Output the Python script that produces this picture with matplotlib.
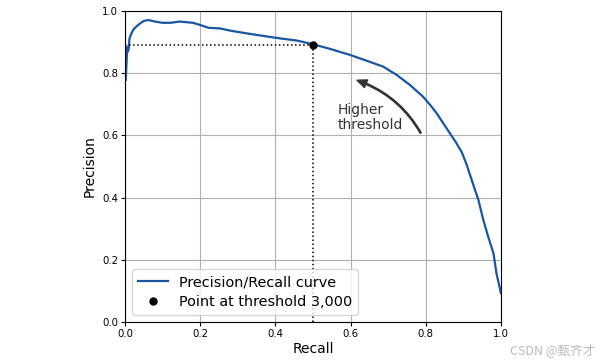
import matplotlib
matplotlib.use("Agg")
import matplotlib.pyplot as plt
import matplotlib.patches as patches

recalls = [1.000, 0.997, 0.988, 0.980, 0.966, 0.953, 0.940, 0.922, 0.909, 0.896,
           0.880, 0.864, 0.846, 0.829, 0.811, 0.793, 0.758, 0.723, 0.687, 0.643,
           0.598, 0.554, 0.540, 0.500, 0.457, 0.412, 0.367, 0.324, 0.279, 0.253,
           0.222, 0.200, 0.181, 0.146, 0.120, 0.100, 0.080, 0.062, 0.050, 0.040,
           0.030, 0.022, 0.016, 0.012, 0.010, 0.008, 0.006, 0.004, 0.002]
precisions = [0.092, 0.108, 0.156, 0.221, 0.274, 0.328, 0.392, 0.457, 0.505, 0.545,
              0.578, 0.607, 0.640, 0.671, 0.699, 0.724, 0.762, 0.794, 0.821, 0.840,
              0.859, 0.875, 0.880, 0.893, 0.905, 0.912, 0.920, 0.928, 0.937, 0.944,
              0.946, 0.955, 0.962, 0.966, 0.962, 0.962, 0.966, 0.971, 0.968, 0.960,
              0.950, 0.940, 0.925, 0.912, 0.880, 0.870, 0.885, 0.830, 0.778]

point_recall = 0.4997
point_precision = 0.8917

fig = plt.figure(figsize=(5.98, 3.61), dpi=100)
ax = fig.add_axes([125/598, 1 - 322/361, 376/598, 311/361])

ax.plot(recalls, precisions, linewidth=1.6, color="#1a56a0",
        label="Precision/Recall curve")
ax.plot([point_recall, point_recall], [0., point_precision], "k:", linewidth=1.1)
ax.plot([0.0, point_recall], [point_precision, point_precision], "k:", linewidth=1.1)
ax.plot([point_recall], [point_precision], "ko", markersize=5,
        label="Point at threshold 3,000")
ax.add_patch(patches.FancyArrowPatch(
    (0.79, 0.60), (0.61, 0.78),
    connectionstyle="arc3,rad=.2",
    arrowstyle="Simple, tail_width=0.9, head_width=6, head_length=7",
    color="#333333"))
ax.text(0.565, 0.622, "Higher\nthreshold", color="#333333", fontsize=10,
        linespacing=1.05)
ax.set_xlabel("Recall", fontsize=10, labelpad=2)
ax.set_ylabel("Precision", fontsize=10, labelpad=4)
ax.axis([0, 1, 0, 1])
ax.tick_params(labelsize=7.3, length=3, pad=2)
ax.grid(True, color="#b0b0b0", linewidth=0.8)
ax.legend(loc="lower left", fontsize=10.4, borderaxespad=0.5, handlelength=2.1,
          handletextpad=0.75, borderpad=0.4, labelspacing=0.4)

fig.text(0.995, 0.01, "CSDN @甄齐才", ha="right", va="bottom", fontsize=9,
         color="#bbbbbb", family=["Noto Sans CJK SC", "DejaVu Sans"])

fig.savefig("out.png", dpi=100)
